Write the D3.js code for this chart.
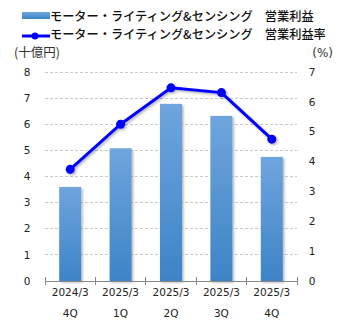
<!DOCTYPE html>
<html><head><meta charset="utf-8">
<script src="https://cdn.jsdelivr.net/npm/d3@7"></script>
<style>body{margin:0;background:#fff;}svg{display:block;}</style>
</head><body>
<svg id="c" width="345" height="330"></svg>
<script>
const years = ["2024/3","2025/3","2025/3","2025/3","2025/3"];
const quarters = ["4Q","1Q","2Q","3Q","4Q"];
const profit = [3.6, 5.08, 6.78, 6.32, 4.75];
const margin = [3.74, 5.25, 6.47, 6.31, 4.75];
const leftTicks = [0,1,2,3,4,5,6,7,8];
const rightTicks = [0,1,2,3,4,5,6,7];
const legendBar = "モーター・ライティング&センシング　営業利益";
const legendLine = "モーター・ライティング&センシング　営業利益率";

const svg = d3.select("#c");
const x = d3.scaleBand().domain(d3.range(years.length)).range([45, 297]).paddingInner(0).paddingOuter(0);
const yL = d3.scaleLinear().domain([0, 8]).range([281, 72]);
const yR = d3.scaleLinear().domain([0, 7]).range([281, 72]);
const numFont = "'DejaVu Sans', Verdana, sans-serif";
const jpFont = "'Noto Sans CJK JP', sans-serif";

const defs = svg.append("defs");
const g = defs.append("linearGradient").attr("id","bg").attr("x1",0).attr("y1",0).attr("x2",0).attr("y2",1);
g.append("stop").attr("offset","0%").attr("stop-color","#6fa5dd");
g.append("stop").attr("offset","100%").attr("stop-color","#3d84c7");
const f = defs.append("filter").attr("id","sh").attr("x","-30%").attr("y","-30%").attr("width","160%").attr("height","160%");
f.append("feDropShadow").attr("dx",1.5).attr("dy",1.5).attr("stdDeviation",1.2).attr("flood-color","#000").attr("flood-opacity",0.3);

// gridlines
svg.append("g").selectAll("line").data(leftTicks.filter(d=>d>0)).join("line")
  .attr("x1",45).attr("x2",297).attr("y1",d=>yL(d)).attr("y2",d=>yL(d))
  .attr("stroke","#c8c8c8").attr("stroke-width",1).attr("stroke-dasharray","3,2").attr("shape-rendering","crispEdges");

// bars
const bw = 22;
svg.append("g").selectAll("rect").data(profit).join("rect")
  .attr("x",(d,i)=>x(i)+x.bandwidth()/2-bw/2).attr("width",bw)
  .attr("y",d=>yL(d)).attr("height",d=>yL(0)-yL(d))
  .attr("fill","url(#bg)").attr("filter","url(#sh)");

// x axis
const xa = svg.append("g").attr("transform","translate(0,281)");
xa.append("line").attr("x1",45).attr("x2",297).attr("stroke","#888").attr("shape-rendering","crispEdges");
const bounds = d3.range(years.length+1).map(i => 45 + i*x.step());
xa.selectAll("line.t").data(bounds).join("line").attr("class","t")
  .attr("x1",d=>d).attr("x2",d=>d).attr("y1",-4).attr("y2",4).attr("stroke","#888").attr("shape-rendering","crispEdges");
xa.selectAll("text.y").data(years).join("text").attr("class","y")
  .attr("x",(d,i)=>x(i)+x.bandwidth()/2).attr("y",15).attr("text-anchor","middle")
  .attr("font-family",numFont).attr("font-size","10.5px").attr("fill","#222").text(d=>d);
xa.selectAll("text.q").data(quarters).join("text").attr("class","q")
  .attr("x",(d,i)=>x(i)+x.bandwidth()/2).attr("y",36).attr("text-anchor","middle")
  .attr("font-family",numFont).attr("font-size","10.5px").attr("fill","#222").text(d=>d);

// left ticks
svg.append("g").selectAll("text").data(leftTicks).join("text")
  .attr("x",27).attr("y",d=>yL(d)).attr("dy","0.35em").attr("text-anchor","middle")
  .attr("font-family",numFont).attr("font-size","10.5px").attr("fill","#222").text(d=>d);
svg.append("g").selectAll("text").data(rightTicks).join("text")
  .attr("x",312).attr("y",d=>yR(d)).attr("dy","0.35em").attr("text-anchor","middle")
  .attr("font-family",numFont).attr("font-size","10.5px").attr("fill","#222").text(d=>d);

// unit labels
svg.append("text").attr("x",14).attr("y",57).attr("font-family",jpFont).attr("font-size","12.5px").attr("fill","#333").text("(十億円)");
svg.append("text").attr("x",333).attr("y",57).attr("text-anchor","end").attr("font-family",numFont).attr("font-size","12px").attr("fill","#333").text("(%)");

// line
const line = d3.line().x((d,i)=>x(i)+x.bandwidth()/2).y(d=>yR(d));
const lg = svg.append("g").attr("filter","url(#sh)");
lg.append("path").datum(margin).attr("d",line).attr("fill","none").attr("stroke","#0000ff").attr("stroke-width",3);
lg.selectAll("circle").data(margin).join("circle")
  .attr("cx",(d,i)=>x(i)+x.bandwidth()/2).attr("cy",d=>yR(d)).attr("r",4.5).attr("fill","#0000ff");

// legend
const leg = svg.append("g");
leg.append("rect").attr("x",22).attr("y",12).attr("width",28).attr("height",7).attr("fill","url(#bg)");
leg.append("text").attr("x",50).attr("y",17).attr("dy","0.35em").attr("font-family",jpFont).attr("font-size","12.2px").attr("font-weight",500).attr("fill","#111").text(legendBar);
leg.append("line").attr("x1",22).attr("x2",50).attr("y1",36).attr("y2",36).attr("stroke","#0000ff").attr("stroke-width",3);
leg.append("circle").attr("cx",35).attr("cy",36).attr("r",3.5).attr("fill","#0000ff");
leg.append("text").attr("x",50).attr("y",34.5).attr("dy","0.35em").attr("font-family",jpFont).attr("font-size","12.2px").attr("font-weight",500).attr("fill","#111").text(legendLine);
</script>
</body></html>
